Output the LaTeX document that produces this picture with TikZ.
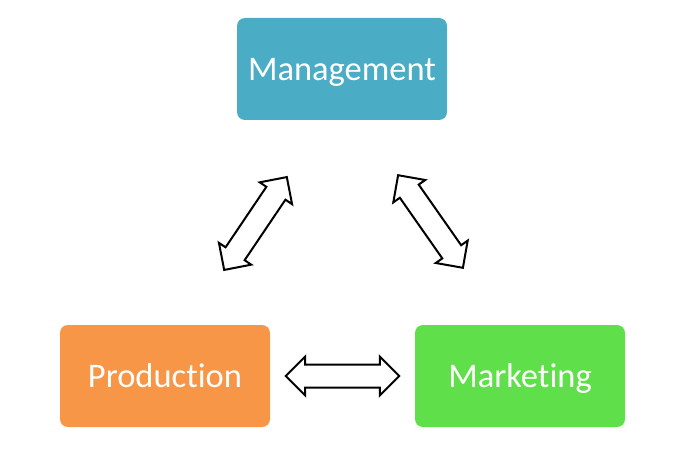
\documentclass[tikz,border=0pt]{standalone}
\usepackage{fontspec}
\setmainfont{Carlito}[Ligatures=NoCommon]
\usetikzlibrary{shapes.arrows,calc}
\definecolor{mgmt}{HTML}{4BACC6}
\definecolor{prod}{HTML}{F79646}
\definecolor{mkt}{HTML}{5FE04A}
\tikzset{
  unitbox/.style={rounded corners=8pt, minimum width=210pt, minimum height=102pt, text=white, font=\fontsize{34.5}{41}\selectfont, inner sep=0pt, text depth=0pt},
  dblarrow/.style={double arrow, draw=black, fill=white, line width=2pt, double arrow head extend=8pt, double arrow tip angle=90, inner xsep=0pt, inner ysep=10.5pt, minimum width=37pt}
}
\begin{document}
\begin{tikzpicture}[x=1pt,y=-1pt]
\useasboundingbox (0,0) rectangle (687,465);
\node[unitbox, fill=mgmt] (mgmt) at (342,69) {Management};
\node[unitbox, fill=prod] (prod) at (165,376) {Production};
\node[unitbox, fill=mkt] (mkt) at (520,376) {Marketing};
\node[dblarrow, minimum height=112pt, rotate=56] (a1) at (255.5,223.5) {};
\node[dblarrow, minimum height=113pt, rotate=-55] (a2) at (430.5,221.5) {};
\node[dblarrow, minimum height=113.6pt] (a3) at (342.5,376) {};
\end{tikzpicture}
\end{document}
